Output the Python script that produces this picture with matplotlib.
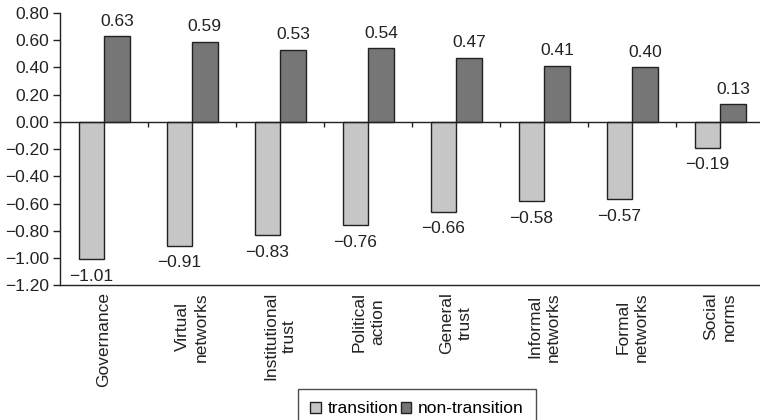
import numpy as np
import matplotlib
matplotlib.use("Agg")
import matplotlib.pyplot as plt
from matplotlib.ticker import FuncFormatter

plt.rcParams['font.family'] = ['Liberation Sans', 'DejaVu Sans']

categories = ["Governance", "Virtual\nnetworks", "Institutional\ntrust",
              "Political\naction", "General\ntrust", "Informal\nnetworks",
              "Formal\nnetworks", "Social\nnorms"]
transition = [-1.01, -0.91, -0.83, -0.76, -0.66, -0.58, -0.57, -0.19]
non_transition = [0.63, 0.59, 0.53, 0.54, 0.47, 0.41, 0.40, 0.13]

def fmt(v):
    s = '%.2f' % v
    if s == '-0.00':
        s = '0.00'
    return s.replace('-', '\u2212')

x = np.arange(len(categories))
w = 0.29

fig = plt.figure(figsize=(7.6, 4.2), dpi=100)
ax = fig.add_axes([0.079, 0.321, 0.921, 0.648])

b1 = ax.bar(x - w / 2, transition, w, color='#c6c6c6', edgecolor='#222222',
            linewidth=1.0, label='transition', zorder=2)
b2 = ax.bar(x + w / 2, non_transition, w, color='#767676', edgecolor='#222222',
            linewidth=1.0, label='non-transition', zorder=2)

for bar, v in zip(b1, transition):
    ax.annotate(fmt(v), (bar.get_x() + bar.get_width() / 2, v),
                xytext=(0, -7), textcoords='offset points',
                ha='center', va='top', fontsize=12.5, color='#222222')
for bar, v in zip(b2, non_transition):
    ax.annotate(fmt(v), (bar.get_x() + bar.get_width() / 2, v),
                xytext=(0, 5.5), textcoords='offset points',
                ha='center', va='bottom', fontsize=12.5, color='#222222')

# zero line with small marks between groups
ax.axhline(0, color='#222222', linewidth=1.0, zorder=3)
ax.vlines(np.arange(len(categories)) - 0.5, -0.04, 0, color='#222222',
          linewidth=1.0, zorder=3)

ax.set_xlim(-0.5, 7.45)
ax.set_ylim(-1.2, 0.8)
ax.set_yticks(np.arange(-1.2, 0.81, 0.2))
ax.yaxis.set_major_formatter(FuncFormatter(lambda v, p: fmt(v)))

ax.set_xticks(x)
ax.set_xticklabels(categories, rotation=90, ha='center', va='top',
                   multialignment='center', linespacing=1.3)
ax.tick_params(axis='x', length=0, pad=5, labelsize=12.5, colors='#222222')
ax.tick_params(axis='y', length=5, width=1, pad=3, labelsize=12.5,
               colors='#222222')

for s in ['top', 'right']:
    ax.spines[s].set_visible(False)
for s in ['left', 'bottom']:
    ax.spines[s].set_color('#222222')
    ax.spines[s].set_linewidth(1.0)

leg = fig.legend(handles=[b1, b2], loc='upper center',
                 bbox_to_anchor=(417 / 760, 1 - 389 / 420), ncol=2,
                 fontsize=12.5, frameon=True, fancybox=False,
                 edgecolor='#222222', handlelength=0.6, handleheight=0.6,
                 handletextpad=0.4, columnspacing=0.15, borderpad=0.7,
                 borderaxespad=0)
leg.get_frame().set_linewidth(1.0)

fig.savefig('out.png', dpi=100)
